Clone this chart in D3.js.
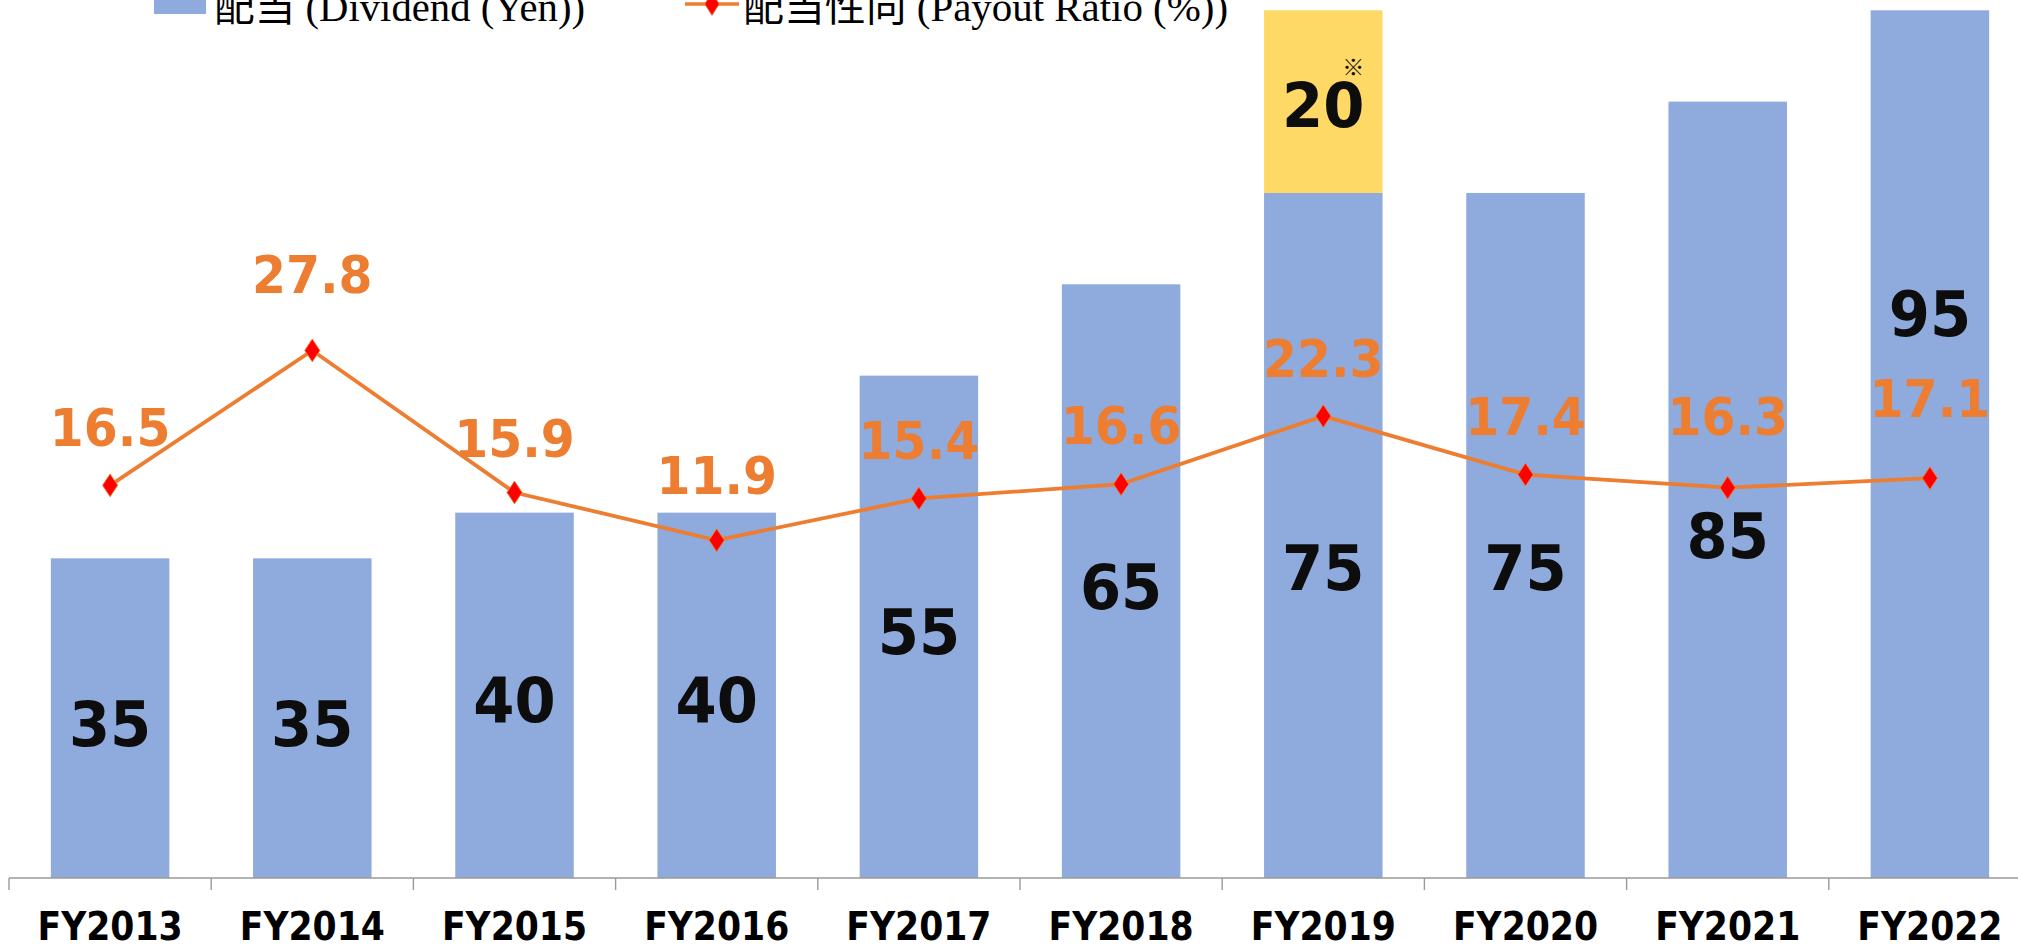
<!DOCTYPE html>
<html>
<head>
<meta charset="utf-8">
<script src="https://cdn.jsdelivr.net/npm/d3@7"></script>
<style>
  html, body { margin: 0; padding: 0; background: #ffffff; overflow: hidden; }
  svg { display: block; }
</style>
</head>
<body>
<svg id="chart" width="2018" height="945"></svg>
<script>
// ---------------- data ----------------
const categories = ["FY2013","FY2014","FY2015","FY2016","FY2017","FY2018","FY2019","FY2020","FY2021","FY2022"];
const dividend   = [35, 35, 40, 40, 55, 65, 75, 75, 85, 95];          // 配当 (Yen)
const special    = [0, 0, 0, 0, 0, 0, 20, 0, 0, 0];                    // additional (※) dividend
const payout     = [16.5, 27.8, 15.9, 11.9, 15.4, 16.6, 22.3, 17.4, 16.3, 17.1]; // 配当性向 (%)
const legendLabels = ["配当 (Dividend (Yen))", "配当性向 (Payout Ratio (%))"];

// label anchor positions (baseline, in each axis' own units)
const dividendLabelAt = [14.5, 14.5, 17.1, 17.1, 24.5, 29.5, 31.5, 31.5, 35.0, 59.3];
const specialLabelAt  = [0, 0, 0, 0, 0, 0, 82.2, 0, 0, 0];
const payoutLabelAt   = [19.8, 32.6, 18.9, 15.8, 18.7, 20.0, 25.6, 20.7, 20.7, 22.2];

// ---------------- layout ----------------
const svg = d3.select("#chart");
const plotLeft = 9, step = 202.2, baseY = 878, topY = 10.3;

const x = d3.scaleBand()
  .domain(categories)
  .range([plotLeft, plotLeft + step * categories.length])
  .paddingInner(0.414)
  .paddingOuter(0.207);

const y = d3.scaleLinear().domain([0, 95]).range([baseY, topY]);
const y2 = d3.scaleLinear().domain([-16.4, 56.3]).range([baseY, topY]);

const BLUE = "#8FAADC", YELLOW = "#FFD966", ORANGE = "#ED7D31", RED = "#FF0000";
const NUMFONT = "'DejaVu Sans', Verdana, sans-serif";

// bars
svg.append("g").selectAll("rect.div")
  .data(categories)
  .join("rect")
  .attr("x", d => x(d))
  .attr("width", x.bandwidth())
  .attr("y", (d, i) => y(dividend[i]))
  .attr("height", (d, i) => y(0) - y(dividend[i]))
  .attr("fill", BLUE);

svg.append("g").selectAll("rect.sp")
  .data(categories.filter((d, i) => special[i] > 0))
  .join("rect")
  .attr("x", d => x(d))
  .attr("width", x.bandwidth())
  .attr("y", d => { const i = categories.indexOf(d); return y(dividend[i] + special[i]); })
  .attr("height", d => { const i = categories.indexOf(d); return y(dividend[i]) - y(dividend[i] + special[i]); })
  .attr("fill", YELLOW);

// x axis
const axisG = svg.append("g");
axisG.append("line")
  .attr("x1", plotLeft).attr("x2", 2018)
  .attr("y1", baseY).attr("y2", baseY)
  .attr("stroke", "#9a9a9a").attr("stroke-width", 1.6);
axisG.selectAll("line.tick")
  .data(categories)
  .join("line")
  .attr("x1", d => x(d) - x.step() * x.paddingOuter())
  .attr("x2", d => x(d) - x.step() * x.paddingOuter())
  .attr("y1", baseY).attr("y2", baseY + 12)
  .attr("stroke", "#9a9a9a").attr("stroke-width", 1.4);

function scaledText(g, txt, cx, by, size, sx, color, family) {
  return g.append("text")
    .attr("transform", `translate(${cx},${by}) scale(${sx},1)`)
    .attr("text-anchor", "middle")
    .attr("font-family", family || NUMFONT)
    .attr("font-weight", "bold")
    .attr("font-size", size)
    .attr("fill", color)
    .text(txt);
}

const labG = svg.append("g");
categories.forEach((c, i) => {
  const cx = x(c) + x.bandwidth() / 2;
  scaledText(labG, c, cx, 940, 38.5, 0.9, "#000000");
});

// payout line
const line = d3.line()
  .x((d, i) => x(categories[i]) + x.bandwidth() / 2)
  .y(d => y2(d));
svg.append("path")
  .datum(payout)
  .attr("d", line)
  .attr("fill", "none")
  .attr("stroke", ORANGE)
  .attr("stroke-width", 3.8);

const diamond = d3.symbol().type(d3.symbolDiamond).size(150);
svg.append("g").selectAll("path")
  .data(payout)
  .join("path")
  .attr("d", diamond)
  .attr("transform", (d, i) => `translate(${x(categories[i]) + x.bandwidth() / 2},${y2(d)}) scale(1.15,1)`)
  .attr("fill", RED)
  .attr("stroke", ORANGE)
  .attr("stroke-width", 0.8);

// value labels
const valG = svg.append("g");
categories.forEach((c, i) => {
  const cx = x(c) + x.bandwidth() / 2;
  scaledText(valG, String(dividend[i]), cx, y(dividendLabelAt[i]), 63, 0.94, "#0d0d0d");
  if (special[i] > 0) {
    scaledText(valG, String(special[i]), cx, y(specialLabelAt[i]), 63, 0.94, "#0d0d0d");
    valG.append("text")
      .attr("x", cx + 30).attr("y", y(specialLabelAt[i]) - 52)
      .attr("text-anchor", "middle")
      .attr("font-family", "'Noto Sans CJK JP', sans-serif")
      .attr("font-size", 22)
      .attr("fill", "#0d0d0d")
      .text("※");
  }
  scaledText(valG, payout[i].toFixed(1), cx, y2(payoutLabelAt[i]), 52, 0.94, ORANGE);
});

// legend (clipped at top of image)
const leg = svg.append("g");
leg.append("rect").attr("x", 154).attr("y", -38).attr("width", 52).attr("height", 52).attr("fill", BLUE);
leg.append("text")
  .attr("x", 214).attr("y", 21)
  .attr("font-family", "'Liberation Serif', 'Noto Sans CJK JP', serif")
  .attr("font-size", 40)
  .attr("textLength", 371).attr("lengthAdjust", "spacingAndGlyphs")
  .attr("fill", "#000")
  .text(legendLabels[0]);
leg.append("line").attr("x1", 685).attr("x2", 739).attr("y1", 4).attr("y2", 4)
  .attr("stroke", ORANGE).attr("stroke-width", 3.5);
leg.append("path").attr("d", diamond)
  .attr("transform", "translate(712,4) scale(1.1,1)")
  .attr("fill", RED).attr("stroke", ORANGE).attr("stroke-width", 0.8);
leg.append("text")
  .attr("x", 743).attr("y", 21)
  .attr("font-family", "'Liberation Serif', 'Noto Sans CJK JP', serif")
  .attr("font-size", 40)
  .attr("textLength", 485).attr("lengthAdjust", "spacingAndGlyphs")
  .attr("fill", "#000")
  .text(legendLabels[1]);
</script>
</body>
</html>
